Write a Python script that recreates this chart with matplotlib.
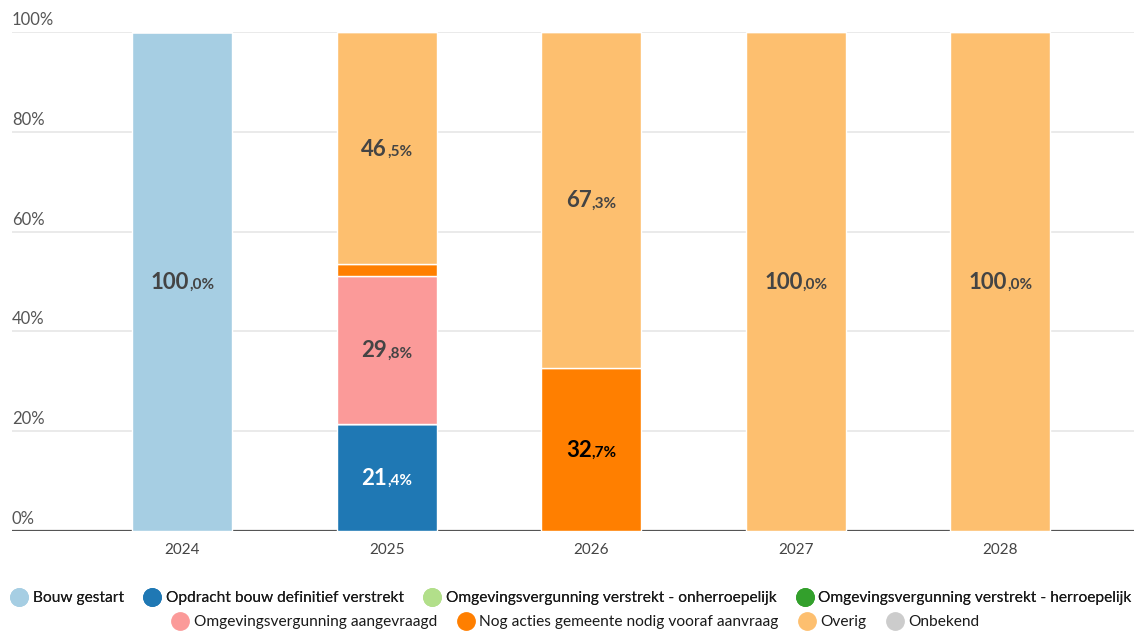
import matplotlib
matplotlib.use("Agg")
import matplotlib.pyplot as plt
from matplotlib.lines import Line2D
from matplotlib import transforms as mtransforms
import numpy as np

plt.rcParams['font.family'] = ['Lato', 'DejaVu Sans']

years = ['2024', '2025', '2026', '2027', '2028']
categories = [
    'Bouw gestart',
    'Opdracht bouw definitief verstrekt',
    'Omgevingsvergunning verstrekt - onherroepelijk',
    'Omgevingsvergunning verstrekt - herroepelijk',
    'Omgevingsvergunning aangevraagd',
    'Nog acties gemeente nodig vooraf aanvraag',
    'Overig',
    'Onbekend',
]
bouw_gestart = [100.0, 0, 0, 0, 0]
opdracht_bouw = [0, 21.4, 0, 0, 0]
verg_onherroepelijk = [0, 0, 0, 0, 0]
verg_herroepelijk = [0, 0, 0, 0, 0]
verg_aangevraagd = [0, 29.8, 0, 0, 0]
nog_acties = [0, 2.3, 32.7, 0, 0]
overig = [0, 46.5, 67.3, 100.0, 100.0]
onbekend = [0, 0, 0, 0, 0]

series = [bouw_gestart, opdracht_bouw, verg_onherroepelijk, verg_herroepelijk,
          verg_aangevraagd, nog_acties, overig, onbekend]
colors = ['#a6cee3', '#1f78b4', '#b2df8a', '#33a02c',
          '#fb9a99', '#ff7f00', '#fdbf6f', '#cccccc']
label_colors = ['#444444', '#ffffff', '#444444', '#ffffff',
                '#444444', '#000000', '#444444', '#444444']

W, H = 1134, 633
fig = plt.figure(figsize=(W / 100, H / 100), dpi=100)
ax = fig.add_axes([12 / W, 1 - 531 / H, (W - 12) / W, (531 - 32) / H])

x = np.arange(len(years))
step = 204.5
ax.set_xlim((12 - 182.3) / step, (W - 182.3) / step)
ax.set_ylim(0, 100)

for s in ax.spines.values():
    s.set_visible(False)
ax.set_yticks([])
ax.set_xticks([])

# gridlines
for v in [20, 40, 60, 80, 100]:
    ax.axhline(v, color='#e6e6e6', lw=1.2, zorder=0)
ax.axhline(0, color='#555555', lw=1.6, zorder=1)

ylab_tr = mtransforms.offset_copy(ax.get_yaxis_transform(), fig=fig, x=0, y=4, units='dots')
for v in [0, 20, 40, 60, 80, 100]:
    ax.text(0, v, f'{v}%', transform=ylab_tr, ha='left', va='bottom',
            fontsize=12, color='#555555')

xlab_tr = mtransforms.offset_copy(ax.get_xaxis_transform(), fig=fig, x=0, y=-19, units='dots')
for xi, yr in zip(x, years):
    ax.text(xi, 0, yr, transform=xlab_tr, ha='center', va='center',
            fontsize=11, color='#444444')

bottom = np.zeros(len(years))
width = 100 / step
labels = []
for vals, c, lc in zip(series, colors, label_colors):
    vals = np.array(vals, dtype=float)
    ax.bar(x, vals, width=width, bottom=bottom, color=c, edgecolor='white',
           linewidth=1.0, zorder=2)
    for xi, v, b in zip(x, vals, bottom):
        if v >= 5:
            s = f'{v:.1f}'.replace('.', ',')
            ip, dp = s.split(',')
            labels.append((xi, b + v / 2, ip, ',' + dp + '%', lc))
    bottom += vals

fig.canvas.draw()
renderer = fig.canvas.get_renderer()
for xi, yc, ip, dp, lc in labels:
    t1 = ax.text(xi, yc, ip, ha='left', va='baseline', fontsize=16,
                 fontweight='bold', color=lc, zorder=5)
    t2 = ax.text(xi, yc, dp, ha='left', va='baseline', fontsize=11,
                 fontweight='bold', color=lc, zorder=5)
    w1 = t1.get_window_extent(renderer).width
    w2 = t2.get_window_extent(renderer).width
    tot = w1 + w2
    t1.set_transform(mtransforms.offset_copy(ax.transData, fig=fig, x=-tot / 2, y=-7.5, units='dots'))
    t2.set_transform(mtransforms.offset_copy(ax.transData, fig=fig, x=-tot / 2 + w1, y=-7.5, units='dots'))

handles = [Line2D([], [], marker='o', linestyle='', markersize=12.5,
                  markerfacecolor=c, markeredgecolor=c) for c in colors]
leg_kw = dict(loc='center', ncol=4, frameon=False, fontsize=11.2,
              handletextpad=0.35, columnspacing=1.35, handlelength=1.0,
              labelcolor='#1a1a1a')
leg1 = fig.legend(handles[:4], categories[:4],
                  bbox_to_anchor=(0.504, 1 - 598 / H), **leg_kw)
leg2 = fig.legend(handles[4:], categories[4:],
                  bbox_to_anchor=(0.508, 1 - 622 / H), **leg_kw)
fig.add_artist(leg1)

fig.savefig('out.png', dpi=100, facecolor='white')
